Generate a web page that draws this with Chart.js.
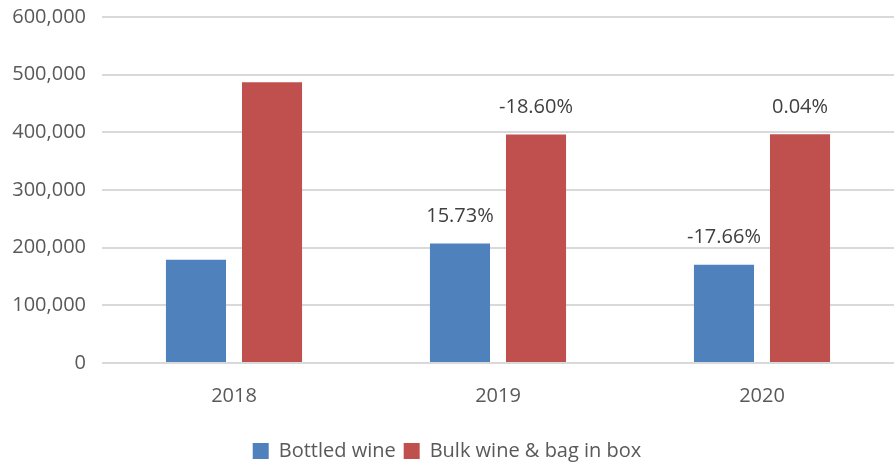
<!DOCTYPE html>
<html>
<head>
<meta charset="utf-8">
<script src="https://cdn.jsdelivr.net/npm/chart.js@4"></script>
<style>
html,body{margin:0;padding:0;background:#fff;}
#wrap{width:894px;height:463px;position:relative;overflow:hidden;}
#c{position:absolute;left:0;top:-11px;}
</style>
</head>
<body>
<div id="wrap"><canvas id="c" width="894" height="482"></canvas></div>
<script>
const categories = ["2018", "2019", "2020"];
const bottledWine = [179000, 207160, 170570];
const bulkWine = [487000, 396420, 396580];
const bottledLabels = ["", "15.73%", "-17.66%"];
const bulkLabels = ["", "-18.60%", "0.04%"];
const yTicks = [0, 100000, 200000, 300000, 400000, 500000, 600000];

const FONT = "'Open Sans', 'Noto Sans', sans-serif";
const labelPlugin = {
  id: 'barLabels',
  afterDatasetsDraw(chart) {
    const ctx = chart.ctx;
    const sets = [bottledLabels, bulkLabels];
    ctx.save();
    ctx.font = "20px " + FONT;
    ctx.fillStyle = "#404040";
    ctx.textAlign = "center";
    ctx.textBaseline = "middle";
    sets.forEach((labels, di) => {
      const meta = chart.getDatasetMeta(di);
      meta.data.forEach((el, i) => {
        if (labels[i]) ctx.fillText(labels[i], el.x, el.y - 27);
      });
    });
    ctx.restore();
  }
};

new Chart(document.getElementById('c'), {
  type: 'bar',
  data: {
    labels: categories,
    datasets: [
      { label: "Bottled wine", data: bottledWine, backgroundColor: "#4f81bd", categoryPercentage: 0.576, barPercentage: 0.79 },
      { label: "Bulk wine & bag in box", data: bulkWine, backgroundColor: "#c0504d", categoryPercentage: 0.576, barPercentage: 0.79 }
    ]
  },
  options: {
    responsive: false,
    animation: false,
    devicePixelRatio: 1,
    layout: { padding: { top: 0, right: 0, left: 0, bottom: 0 } },
    plugins: {
      legend: {
        position: 'bottom',
        labels: { boxWidth: 16, boxHeight: 16, font: { size: 20, family: FONT }, color: "#595959", padding: 8 }
      },
      tooltip: { enabled: false }
    },
    scales: {
      x: {
        grid: { display: false },
        border: { display: false },
        ticks: { font: { size: 20, family: FONT }, color: "#595959", padding: 13 },
        afterFit(scale) { scale.height = 70; }
      },
      y: {
        min: 0, max: 600000,
        afterBuildTicks(scale) { scale.ticks = yTicks.map(v => ({ value: v })); },
        afterFit(scale) { scale.width = 102; },
        grid: { color: "#d9d9d9", lineWidth: 2, drawTicks: false },
        border: { display: false },
        ticks: {
          font: { size: 20, family: FONT }, color: "#595959", padding: 16,
          callback: v => v.toLocaleString('en-US')
        }
      }
    }
  },
  plugins: [labelPlugin]
});
</script>
</body>
</html>
